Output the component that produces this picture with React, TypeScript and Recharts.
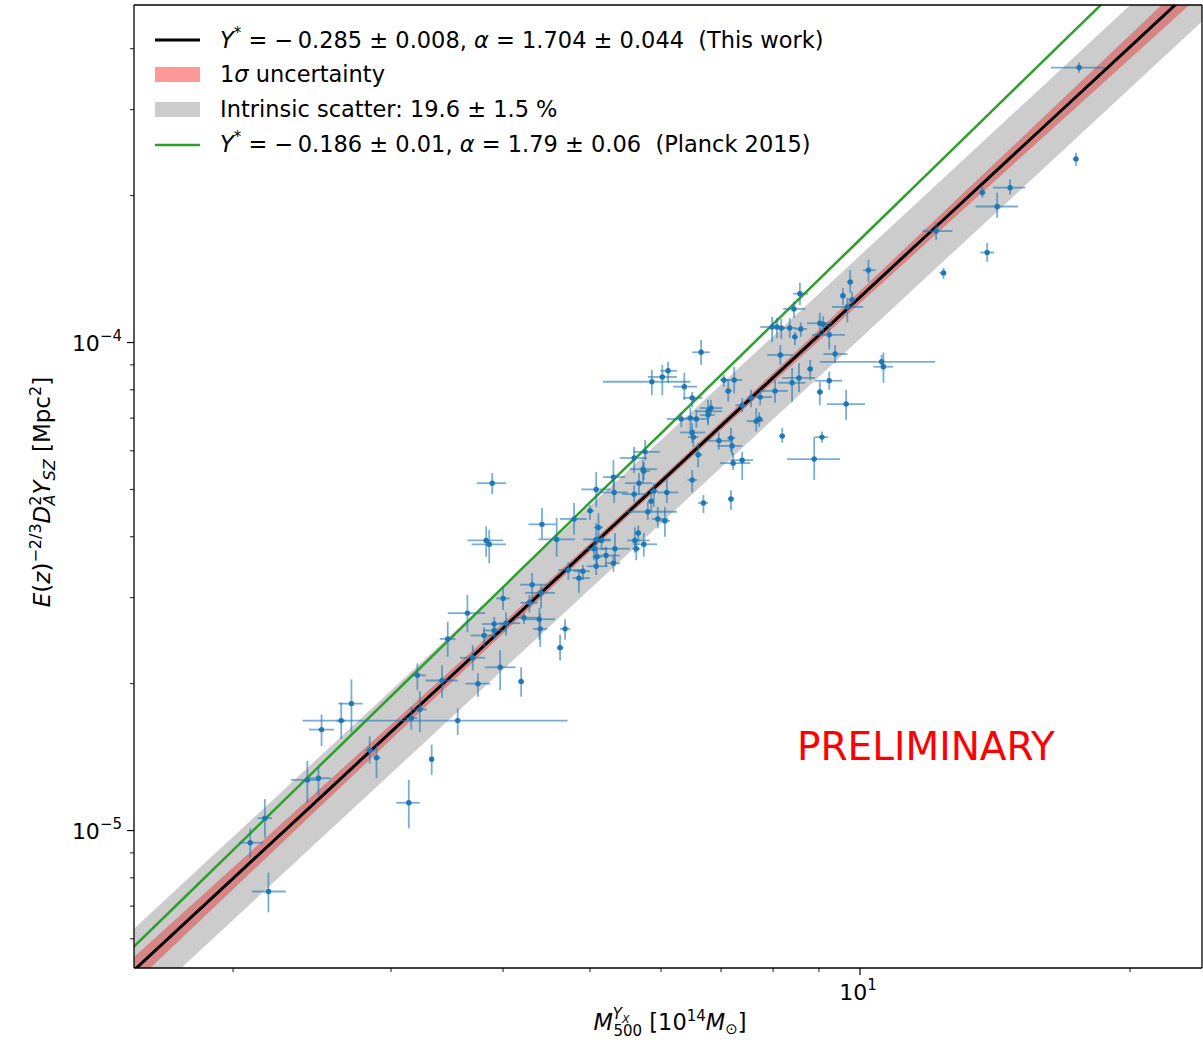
import React from 'react';
import { ComposedChart, XAxis, YAxis, Scatter, ErrorBar, Line, Area, ReferenceLine } from 'recharts';

const FONT = '"DejaVu Sans", sans-serif';
const W = 1203;
const H = 1044;

// axis ranges (mass in 1e14 Msun, Y in Mpc^2)
const X_DOMAIN: [number, number] = [1.5508, 24.06];
const Y_DOMAIN: [number, number] = [5.228e-6, 4.916e-4];
const X_TICKS = [2, 3, 4, 5, 6, 7, 8, 9, 10, 20];
const Y_TICKS = [6e-6, 7e-6, 8e-6, 9e-6, 1e-5, 2e-5, 3e-5, 4e-5, 5e-5, 6e-5, 7e-5, 8e-5, 9e-5, 1e-4, 2e-4, 3e-4, 4e-4];

// scaling-relation parameters (from the legend)
const PIVOT_MASS = 6;
const Y_NORM = 1e-4;
const THIS_WORK = { ystar: -0.285, ystarErr: 0.008, alpha: 1.704, alphaErr: 0.044 };
const PLANCK_2015 = { ystar: -0.186, alpha: 1.79 };
const INTRINSIC_SCATTER = 0.196;
const MODEL_MASS = [1.5, 1.75, 2, 2.5, 3, 3.5, 4, 5, 6, 7, 8, 10, 12, 14, 17, 20, 25];

// clusters: [M, M_lo, M_hi, Y(1e-5 Mpc^2), Y_lo, Y_hi]
type Pt = [number, number, number, number, number, number];
const lowMassClusters: Pt[] = [
  [2.09, 2.03, 2.16, 0.944, 0.88, 1.01],
  [2.17, 2.13, 2.21, 1.06, 0.967, 1.16],
  [2.19, 2.10, 2.29, 0.75, 0.68, 0.82],
  [2.42, 2.32, 2.50, 1.27, 1.14, 1.39],
  [2.49, 2.42, 2.57, 1.28, 1.18, 1.35],
  [2.51, 2.43, 2.59, 1.61, 1.49, 1.73],
  [2.64, 2.61, 2.67, 1.68, 1.54, 1.83],
  [2.71, 2.62, 2.79, 1.82, 1.59, 2.04],
  [2.84, 2.81, 2.88, 1.46, 1.37, 1.56],
  [2.89, 2.87, 2.92, 1.41, 1.28, 1.50],
  [3.14, 3.04, 3.23, 1.14, 1.01, 1.27],
  [3.16, 3.11, 3.21, 1.70, 1.61, 1.79],
  [3.21, 3.16, 3.28, 2.08, 1.94, 2.20],
  [3.23, 3.16, 3.29, 1.77, 1.59, 1.93],
  [3.33, 3.31, 3.35, 1.40, 1.30, 1.50],
  [3.42, 3.28, 3.56, 2.03, 1.87, 2.18],
  [3.56, 2.39, 4.72, 1.68, 1.57, 1.78],
  [3.70, 3.58, 3.82, 2.26, 2.13, 2.40],
  [3.75, 3.63, 3.87, 2.00, 1.88, 2.10],
  [3.97, 3.82, 4.13, 2.16, 1.94, 2.34],
  [4.19, 4.16, 4.22, 2.02, 1.88, 2.16],
  [3.47, 3.40, 3.54, 2.47, 2.27, 2.68],
  [3.65, 3.47, 3.82, 2.79, 2.55, 3.04],
  [4.00, 3.93, 4.07, 2.99, 2.83, 3.14],
  [4.31, 4.18, 4.48, 3.19, 2.97, 3.37],
  [4.41, 4.23, 4.57, 3.07, 2.85, 3.19],
  [4.28, 4.18, 4.37, 2.93, 2.80, 3.04],
  [3.91, 3.79, 4.05, 2.65, 2.54, 2.74],
  [3.91, 3.80, 4.04, 2.57, 2.46, 2.65],
  [4.03, 3.95, 4.18, 2.66, 2.51, 2.80],
  [3.81, 3.68, 3.94, 2.51, 2.38, 2.61],
  [4.22, 4.13, 4.40, 2.73, 2.65, 2.79],
  [4.39, 4.23, 4.57, 2.71, 2.46, 2.86],
  [4.40, 4.32, 4.48, 2.59, 2.38, 2.79],
  [4.69, 4.63, 4.75, 2.59, 2.46, 2.71],
  [4.63, 4.59, 4.67, 2.37, 2.23, 2.52],
  [4.73, 4.61, 4.88, 3.42, 3.26, 3.55],
  [4.91, 4.79, 5.00, 3.40, 3.26, 3.50],
  [4.86, 4.78, 5.00, 3.29, 3.07, 3.42],
  [5.08, 4.96, 5.23, 3.48, 3.34, 3.64],
  [5.31, 5.20, 5.40, 3.53, 3.39, 3.67],
];
const midMassClusters: Pt[] = [
  [3.89, 3.74, 4.03, 5.15, 4.89, 5.40],
  [3.83, 3.65, 4.00, 3.93, 3.64, 4.20],
  [3.86, 3.69, 4.03, 3.86, 3.53, 4.13],
  [4.42, 4.27, 4.58, 4.24, 3.96, 4.58],
  [4.59, 4.38, 4.81, 3.95, 3.64, 4.37],
  [4.80, 4.63, 4.96, 4.35, 4.04, 4.69],
  [5.00, 4.96, 5.05, 4.52, 4.33, 4.64],
  [5.08, 4.89, 5.27, 5.00, 4.60, 5.43],
  [5.11, 5.05, 5.17, 4.18, 3.95, 4.47],
  [5.08, 4.91, 5.27, 3.95, 3.67, 4.27],
  [5.15, 5.07, 5.27, 3.93, 3.76, 4.04],
  [5.05, 4.94, 5.23, 3.78, 3.58, 3.95],
  [5.09, 5.03, 5.16, 3.64, 3.50, 3.82],
  [5.21, 5.09, 5.40, 3.66, 3.47, 3.82],
  [5.33, 5.16, 5.54, 3.78, 3.53, 4.07],
  [5.31, 5.17, 5.47, 5.30, 4.91, 5.74],
  [5.32, 5.13, 5.51, 4.93, 4.69, 5.28],
  [5.60, 5.40, 5.79, 5.80, 5.40, 6.11],
  [5.76, 5.59, 5.98, 5.97, 5.74, 6.31],
  [5.73, 5.54, 5.94, 5.50, 5.15, 5.74],
  [5.74, 5.69, 5.83, 5.45, 5.23, 5.69],
  [5.67, 5.47, 5.86, 5.15, 4.87, 5.40],
  [5.60, 5.43, 5.79, 4.89, 4.71, 5.10],
  [5.89, 5.83, 5.95, 4.96, 4.60, 5.15],
  [5.85, 5.80, 5.89, 4.73, 4.50, 4.98],
  [5.80, 5.50, 6.25, 4.50, 4.33, 4.71],
  [6.09, 5.94, 6.27, 4.93, 4.69, 5.28],
  [5.95, 5.86, 6.11, 4.35, 4.16, 4.60],
  [6.06, 5.99, 6.14, 4.31, 4.00, 4.60],
  [5.66, 5.61, 5.70, 4.07, 3.91, 4.22],
  [5.61, 5.50, 5.83, 3.93, 3.71, 4.18],
  [5.74, 5.59, 5.94, 3.86, 3.64, 4.07],
  [5.63, 5.57, 5.69, 3.78, 3.58, 3.89],
  [6.50, 6.42, 6.58, 5.23, 4.93, 5.48],
  [6.69, 6.60, 6.77, 4.69, 4.47, 4.87],
  [6.60, 6.55, 6.67, 5.89, 5.55, 6.23],
  [6.65, 6.50, 6.80, 9.55, 9.00, 10.12],
  [6.11, 5.99, 6.25, 8.75, 8.27, 9.13],
  [6.02, 5.80, 6.25, 8.50, 7.80, 9.00],
  [5.86, 5.17, 6.47, 8.31, 7.80, 8.79],
  [6.37, 6.19, 6.58, 8.12, 7.63, 8.67],
  [6.50, 6.35, 6.67, 7.70, 7.37, 7.92],
  [7.05, 6.98, 7.13, 8.38, 8.12, 8.58],
  [7.24, 7.07, 7.39, 8.38, 7.87, 8.92],
  [7.13, 7.07, 7.20, 7.96, 7.56, 8.38],
  [6.82, 6.63, 7.02, 7.34, 7.10, 7.63],
  [6.77, 6.55, 7.02, 7.23, 6.83, 7.63],
  [6.77, 6.63, 6.89, 7.10, 6.77, 7.34],
  [6.57, 6.47, 6.75, 6.97, 6.69, 7.27],
  [6.47, 6.38, 6.55, 7.00, 6.46, 7.37],
  [6.32, 6.09, 6.52, 6.97, 6.71, 7.20],
  [6.50, 6.30, 6.72, 6.54, 6.23, 6.83],
  [6.52, 6.43, 6.60, 6.40, 6.11, 6.63],
  [6.96, 6.77, 7.16, 6.29, 6.03, 6.54],
  [7.18, 7.11, 7.26, 6.37, 5.97, 6.69],
  [7.20, 6.93, 7.39, 6.14, 5.89, 6.37],
  [7.22, 6.98, 7.54, 5.66, 5.48, 5.94],
  [7.39, 7.16, 7.60, 5.74, 5.23, 5.97],
  [7.18, 7.13, 7.24, 4.78, 4.54, 4.98],
];
const highMassClusters: Pt[] = [
  [7.39, 7.26, 7.48, 7.44, 7.20, 7.70],
  [7.56, 7.50, 7.62, 7.70, 7.37, 8.00],
  [7.74, 7.54, 7.98, 7.73, 7.44, 8.00],
  [7.66, 7.48, 7.80, 6.90, 6.57, 7.34],
  [7.72, 7.64, 7.80, 6.97, 6.71, 7.20],
  [8.04, 7.74, 8.31, 7.96, 7.52, 8.38],
  [8.15, 7.88, 8.42, 9.43, 9.00, 9.88],
  [8.40, 8.10, 8.69, 8.27, 7.56, 8.87],
  [8.19, 8.13, 8.25, 6.43, 6.23, 6.69],
  [8.55, 8.19, 8.91, 8.46, 7.92, 9.08],
  [8.80, 8.73, 8.86, 8.83, 8.38, 9.21],
  [9.02, 8.96, 9.10, 7.92, 7.44, 8.31],
  [9.24, 8.91, 9.55, 8.35, 8.00, 8.71],
  [9.38, 9.10, 9.68, 9.47, 9.08, 9.88],
  [9.65, 9.19, 10.13, 7.48, 6.93, 8.00],
  [9.07, 8.91, 9.21, 6.40, 6.23, 6.57],
  [8.89, 8.29, 9.50, 5.77, 5.23, 6.40],
  [10.57, 9.02, 12.13, 9.13, 8.92, 9.43],
  [10.62, 10.35, 10.89, 8.92, 8.27, 9.55],
  [9.24, 8.84, 9.62, 10.37, 9.68, 10.85],
  [8.46, 8.40, 8.52, 10.27, 9.88, 10.51],
  [8.35, 8.21, 8.50, 10.71, 10.22, 11.22],
  [8.59, 8.46, 8.73, 10.66, 10.27, 11.00],
  [7.98, 7.74, 8.10, 10.76, 10.02, 11.28],
  [8.08, 8.02, 8.15, 10.76, 10.22, 11.22],
  [8.17, 8.08, 8.25, 10.71, 10.17, 11.17],
  [9.02, 8.73, 9.31, 10.95, 10.37, 11.50],
  [9.10, 8.98, 9.21, 10.90, 10.46, 11.33],
  [8.44, 8.21, 8.69, 11.72, 11.22, 12.12],
  [8.57, 8.42, 8.75, 12.59, 11.94, 13.25],
  [9.57, 9.50, 9.65, 12.47, 11.94, 12.94],
  [9.75, 9.68, 9.83, 13.31, 12.65, 14.07],
  [9.80, 9.70, 9.90, 12.24, 11.83, 12.71],
  [9.68, 9.31, 10.08, 11.83, 11.00, 12.35],
  [10.22, 10.08, 10.41, 14.07, 13.31, 14.79],
  [12.16, 11.74, 12.68, 16.92, 16.21, 17.58],
  [12.39, 12.26, 12.48, 13.88, 13.50, 14.21],
  [13.69, 13.59, 13.79, 20.29, 19.80, 20.86],
  [13.86, 13.62, 14.11, 15.29, 14.63, 16.00],
  [14.22, 13.45, 15.00, 19.00, 18.00, 20.29],
  [14.70, 14.07, 15.28, 20.76, 20.10, 21.58],
  [17.41, 17.27, 17.50, 23.78, 23.00, 24.47],
  [17.55, 16.33, 18.76, 36.6, 35.7, 37.5],
];

const Y_UNIT = 1e-5;
const clusterRows = [...lowMassClusters, ...midMassClusters, ...highMassClusters].map(
  ([m, mLo, mHi, y, yLo, yHi]) => ({
    m,
    y: y * Y_UNIT,
    ex: [m - mLo, mHi - m],
    ey: [(y - yLo) * Y_UNIT, (yHi - y) * Y_UNIT],
  })
);

const modelRows = MODEL_MASS.map((m) => {
  const L = Math.log10(m / PIVOT_MASS);
  const fit = Y_NORM * Math.pow(10, THIS_WORK.ystar + THIS_WORK.alpha * L);
  const planck = Y_NORM * Math.pow(10, PLANCK_2015.ystar + PLANCK_2015.alpha * L);
  const s = Math.sqrt(THIS_WORK.ystarErr ** 2 + (THIS_WORK.alphaErr * L) ** 2);
  return {
    m,
    fit,
    planck,
    sigma: [fit * Math.pow(10, -s), fit * Math.pow(10, s)],
    scatter: [fit * Math.exp(-INTRINSIC_SCATTER), fit * Math.exp(INTRINSIC_SCATTER)],
  };
});

const isMajor = (v: number) => Math.abs(Math.log10(v) - Math.round(Math.log10(v))) < 1e-9;

function XTick(props: any) {
  const { x, y, payload } = props;
  const v = payload.value;
  const major = isMajor(v);
  return (
    <g>
      <line x1={x} x2={x} y1={y} y2={y + (major ? 7 : 4)} stroke="#000" strokeWidth={major ? 1.2 : 0.9} />
      {major && (
        <text x={x - 2} y={y + 32} textAnchor="middle" fontSize={22} fontFamily={FONT} fill="#000">
          10<tspan dy={-10} fontSize={15}>{Math.round(Math.log10(v))}</tspan>
        </text>
      )}
    </g>
  );
}

function YTick(props: any) {
  const { x, y, payload } = props;
  const v = payload.value;
  const major = isMajor(v);
  const e = Math.round(Math.log10(v));
  return (
    <g>
      <line x1={x - (major ? 7 : 4)} x2={x} y1={y} y2={y} stroke="#000" strokeWidth={major ? 1.2 : 0.9} />
      {major && (
        <text x={x - 12} y={y + 8} textAnchor="end" fontSize={22} fontFamily={FONT} fill="#000">
          10<tspan dy={-10} fontSize={15}>{'\u2212' + Math.abs(e)}</tspan>
        </text>
      )}
    </g>
  );
}

const dotShape = (p: any) => <circle cx={p.cx} cy={p.cy} r={2.7} fill="#1f77b4" />;

function Overlay() {
  const t = { fontFamily: FONT, fontSize: 22.5, fill: '#000', style: { whiteSpace: 'pre' as const } };
  return (
    <svg width={W} height={H} style={{ position: 'absolute', left: 0, top: 0, pointerEvents: 'none' }}>
      {/* legend */}
      <line x1={155} x2={200} y1={40} y2={40} stroke="#000" strokeWidth={3} />
      <text x={220} y={48} {...t}>
        <tspan fontStyle="italic">Y</tspan>
        <tspan dy={-10} fontSize={15}>*</tspan>
        <tspan dy={10}>{' = \u2212\u20090.285 \u00b1 0.008, '}</tspan>
        <tspan fontStyle="italic">α</tspan>
        <tspan>{' = 1.704 \u00b1 0.044  (This work)'}</tspan>
      </text>
      <rect x={155} y={67} width={45} height={15} fill="#ff0000" fillOpacity={0.4} />
      <text x={220} y={82} {...t}>
        1<tspan fontStyle="italic">σ</tspan>
        <tspan>{' uncertainty'}</tspan>
      </text>
      <rect x={155} y={102} width={45} height={15} fill="#cccccc" />
      <text x={220} y={117} {...t}>{'Intrinsic scatter: 19.6 \u00b1 1.5 %'}</text>
      <line x1={155} x2={200} y1={145} y2={145} stroke="#2ca02c" strokeWidth={2.5} />
      <text x={220} y={152} {...t}>
        <tspan fontStyle="italic">Y</tspan>
        <tspan dy={-10} fontSize={15}>*</tspan>
        <tspan dy={10}>{' = \u2212\u20090.186 \u00b1 0.01, '}</tspan>
        <tspan fontStyle="italic">α</tspan>
        <tspan>{' = 1.79 \u00b1 0.06  (Planck 2015)'}</tspan>
      </text>

      {/* watermark */}
      <text x={797} y={760} fontFamily={FONT} fontSize={39} fill="#ff0000">PRELIMINARY</text>

      {/* x label */}
      <text x={670} y={1030} textAnchor="middle" fontFamily={FONT} fontSize={22.5} fill="#000" style={{ whiteSpace: 'pre' }}>
        <tspan fontStyle="italic">M</tspan>
        <tspan dy={-11} fontSize={15} fontStyle="italic">Y</tspan>
        <tspan dy={4} fontSize={11} fontStyle="italic">X</tspan>
        <tspan dx={-16} dy={13} fontSize={15}>500</tspan>
        <tspan dy={-6}>{' [10'}</tspan>
        <tspan dy={-9} fontSize={15}>14</tspan>
        <tspan dy={9} fontStyle="italic">M</tspan>
        <tspan dy={4} fontSize={15}>⊙</tspan>
        <tspan dy={-4}>]</tspan>
      </text>

      {/* y label */}
      <text transform="rotate(-90)" x={-492} y={50} textAnchor="middle" fontFamily={FONT} fontSize={23} fill="#000" style={{ whiteSpace: 'pre' }}>
        <tspan fontStyle="italic">E</tspan>
        <tspan>(</tspan>
        <tspan fontStyle="italic">z</tspan>
        <tspan>)</tspan>
        <tspan dy={-9} fontSize={16}>{'\u22122/3'}</tspan>
        <tspan dy={9} fontStyle="italic">D</tspan>
        <tspan dy={-9} fontSize={16}>2</tspan>
        <tspan dx={-10} dy={14} fontSize={16} fontStyle="italic">A</tspan>
        <tspan dy={-5} fontStyle="italic">Y</tspan>
        <tspan dy={5} fontSize={16} fontStyle="italic">SZ</tspan>
        <tspan dy={-5}>{' [Mpc'}</tspan>
        <tspan dy={-9} fontSize={16}>2</tspan>
        <tspan dy={9}>]</tspan>
      </text>
    </svg>
  );
}

export default function App() {
  return (
    <div style={{ position: 'absolute', left: 0, top: 0, width: W, height: H, background: '#fff' }}>
      <ComposedChart width={W} height={H} margin={{ top: 5, right: 1, bottom: 0, left: 0 }}>
        <XAxis
          dataKey="m"
          type="number"
          scale="log"
          domain={X_DOMAIN}
          allowDataOverflow
          ticks={X_TICKS}
          interval={0}
          tick={(p: any) => <XTick {...p} />}
          tickLine={false}
          tickSize={0}
          tickMargin={0}
          axisLine={{ stroke: '#000', strokeWidth: 1.3 }}
          height={76}
        />
        <YAxis
          type="number"
          scale="log"
          domain={Y_DOMAIN}
          allowDataOverflow
          ticks={Y_TICKS}
          interval={0}
          tick={(p: any) => <YTick {...p} />}
          tickLine={false}
          tickSize={0}
          tickMargin={0}
          axisLine={{ stroke: '#000', strokeWidth: 1.3 }}
          width={134}
        />
        <Area data={modelRows} dataKey="scatter" type="linear" stroke="none" fill="#cccccc" fillOpacity={1} isAnimationActive={false} />
        <Area data={modelRows} dataKey="sigma" type="linear" stroke="none" fill="#e0302c" fillOpacity={0.45} isAnimationActive={false} />
        <Line data={modelRows} dataKey="fit" type="linear" stroke="#000" strokeWidth={3} dot={false} isAnimationActive={false} />
        <Line data={modelRows} dataKey="planck" type="linear" stroke="#2ca02c" strokeWidth={2.5} dot={false} isAnimationActive={false} />
        <Scatter data={clusterRows} dataKey="y" shape={dotShape} isAnimationActive={false}>
          <ErrorBar dataKey="ex" direction="x" width={0} stroke="#1f77b4" strokeOpacity={0.6} strokeWidth={1.8} />
          <ErrorBar dataKey="ey" direction="y" width={0} stroke="#1f77b4" strokeOpacity={0.6} strokeWidth={1.8} />
        </Scatter>
        <ReferenceLine y={Y_DOMAIN[1]} stroke="#000" strokeWidth={1.3} ifOverflow="visible" />
        <ReferenceLine x={X_DOMAIN[1]} stroke="#000" strokeWidth={1.3} ifOverflow="visible" />
      </ComposedChart>
      <Overlay />
    </div>
  );
}
